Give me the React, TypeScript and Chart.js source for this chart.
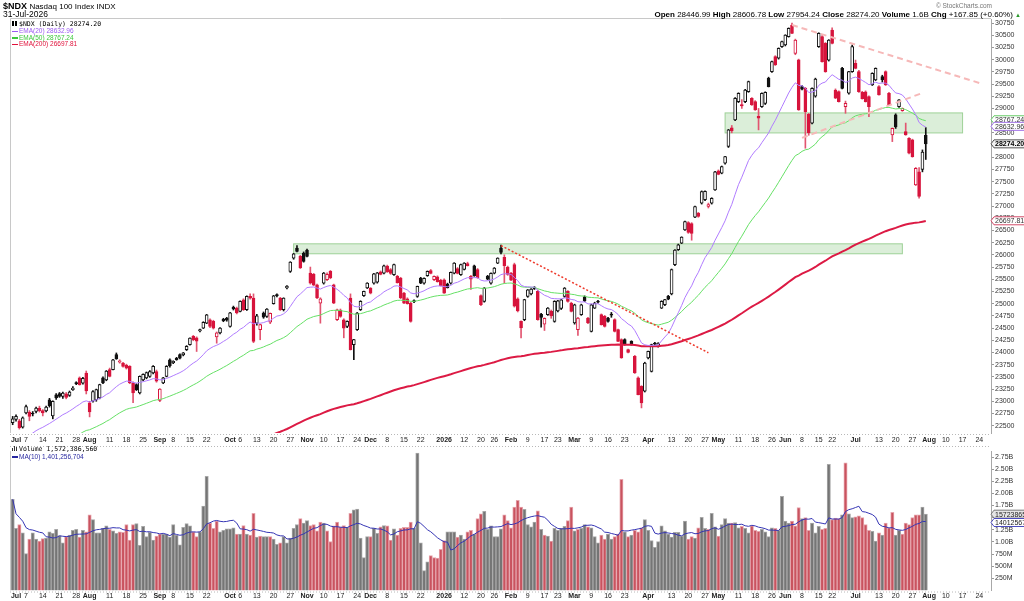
import React, { useEffect, useRef } from "react";
import { Chart, registerables } from "chart.js";

Chart.register(...registerables);

// ---------------- calendar ----------------
const FIRST_SESSION = "2025-06-30";
const LAST_AXIS_DAY = "2026-08-27";
const HOLIDAYS = [
  "2025-07-04", "2025-09-01", "2025-11-27", "2025-12-25", "2026-01-01", "2026-01-19",
  "2026-02-16", "2026-04-03", "2026-05-25", "2026-06-19", "2026-07-03",
];

// ---------------- daily prices ($NDX) ----------------
const OPEN = [
  22560, 22630, 22600, 22470, 22760, 22780, 22760, 22790, 22860, 22810,
  22800, 23030, 22700, 23130, 23160, 23100, 23150, 23120, 23240, 23380,
  23480, 23370, 23580, 22970, 23000, 23030, 23070, 23480, 23440, 23650,
  23650, 23955, 23800, 23780, 23740, 23715, 23375, 23340, 23170, 23440,
  23480, 23510, 23580, 23610, 23020, 23375, 23510, 23850, 23790, 23880,
  23955, 23950, 24056, 24160, 24330, 24300, 24440, 24500, 24600, 24670,
  24640, 24317, 24400, 24680, 24700, 24535, 24925, 24910, 24840, 25080,
  24875, 25150, 25115, 24600, 24465, 24807, 24740, 24620, 25000, 25180,
  25115, 24875, 25320, 25660, 25930, 26140, 25970, 26035, 26100, 25626,
  25600, 25387, 25010, 25420, 25490, 25660, 25387, 24672, 24870, 24670,
  24535, 25115, 24160, 24467, 24876, 25162, 25320, 25320, 25422, 25440,
  25650, 25626, 25770, 25700, 25592, 25560, 25524, 25217, 25100, 25012,
  25060, 25149, 25524, 25420, 25572, 25680, 25490, 25550, 25480, 25490,
  25400, 25422, 25626, 25720, 25592, 25700, 25820, 25560, 25776, 25700,
  25163, 25047, 25558, 25420, 25626, 25831, 26138, 25950, 25749, 25620,
  25800, 25100, 24637, 24672, 25149, 25200, 25330, 25250, 24780, 24580,
  24774, 24850, 24637, 24850, 24900, 25149, 25251, 25013, 24603, 24467,
  24774, 25140, 24706, 24433, 24910, 25050, 24774, 24740, 24706, 24780,
  24672, 24467, 24262, 24262, 24058, 24228, 23921, 23478, 23307, 23205,
  23887, 23614, 24194, 24126, 24910, 24978, 25149, 25200, 25800, 26104,
  26240, 26513, 26663, 26640, 26772, 26854, 27059, 27130, 26990, 27059,
  27332, 27720, 27672, 27877, 28219, 28600, 28764, 29140, 29080, 29140,
  29344, 29208, 29140, 28840, 29037, 29100, 29617, 29754, 30061, 30027,
  30266, 30299, 30470, 30709, 30129, 29993, 29447, 29412, 28880, 28696,
  29250, 30266, 30470, 30334, 29990, 30607, 29378, 29344, 29822, 29037,
  29310, 29754, 29924, 29754, 29330, 29340, 29242, 29481, 29583, 29447,
  29650, 29754, 29310, 28457, 28867, 29037, 28956, 28526, 28389, 28355,
  27434, 27700, 27750, 28446.99,
];
const HIGH = [
  22690, 22720, 22630, 22680, 22920, 22810, 22790, 22880, 22900, 22830,
  22900, 23060, 23010, 23160, 23180, 23190, 23180, 23210, 23300, 23400,
  23500, 23490, 23620, 23000, 23220, 23250, 23350, 23500, 23630, 23680,
  23860, 23990, 23850, 23800, 23760, 23730, 23400, 23360, 23520, 23560,
  23600, 23630, 23730, 23640, 23260, 23490, 23730, 23870, 23830, 23900,
  23970, 24000, 24140, 24300, 24350, 24320, 24480, 24630, 24780, 24690,
  24660, 24420, 24510, 24700, 24720, 24820, 24950, 24930, 25060, 25100,
  25160, 25200, 25200, 24780, 24580, 24830, 24900, 24810, 25170, 25200,
  25130, 25120, 25370, 25860, 26030, 26190, 25990, 26060, 26120, 25750,
  25620, 25400, 25120, 25640, 25630, 25680, 25400, 24890, 24890, 24690,
  24650, 25200, 24270, 24820, 25060, 25260, 25430, 25330, 25620, 25640,
  25670, 25790, 25790, 25720, 25810, 25580, 25540, 25230, 25120, 25030,
  25080, 25360, 25540, 25530, 25670, 25700, 25570, 25570, 25500, 25510,
  25420, 25650, 25840, 25740, 25810, 25840, 25850, 25580, 25790, 25720,
  25180, 25330, 25580, 25630, 25740, 25940, 26200, 26000, 25770, 25640,
  25830, 25120, 24650, 25090, 25290, 25310, 25350, 25280, 24800, 24710,
  24920, 24870, 25060, 25070, 25090, 25330, 25270, 25030, 24990, 24720,
  24990, 25160, 24720, 24990, 25030, 25070, 24790, 24760, 24720, 24820,
  24690, 24480, 24280, 24280, 24070, 24240, 23940, 23500, 23320, 23800,
  24030, 24170, 24210, 24200, 25060, 25090, 25170, 25710, 26110, 26220,
  26370, 26690, 26680, 26660, 27000, 26870, 27310, 27310, 27060, 27170,
  27710, 27740, 27820, 28020, 28570, 28650, 29220, 29320, 29180, 29390,
  29560, 29220, 29160, 29000, 29320, 29340, 29640, 29970, 30080, 30240,
  30380, 30510, 30650, 30750, 30420, 30010, 29470, 29430, 28900, 29420,
  29620, 30550, 30490, 30350, 30410, 30650, 29400, 29360, 29840, 29150,
  29760, 30300, 29990, 29780, 29350, 29360, 29260, 29730, 29830, 29470,
  29680, 29770, 29330, 28600, 28890, 29180, 29010, 28700, 28400, 28370,
  27790, 27790, 28150, 28606.78,
];
const LOW = [
  22520, 22590, 22430, 22450, 22740, 22600, 22700, 22760, 22780, 22700,
  22780, 22880, 22640, 23040, 23080, 23060, 23050, 23100, 23220, 23340,
  23330, 23350, 23150, 22680, 22980, 23000, 23050, 23360, 23420, 23500,
  23640, 23860, 23780, 23700, 23660, 23360, 22970, 23220, 23150, 23420,
  23460, 23490, 23560, 23390, 22990, 23360, 23500, 23700, 23770, 23840,
  23870, 23930, 24040, 24150, 24240, 24020, 24420, 24490, 24590, 24510,
  24480, 24190, 24380, 24630, 24640, 24520, 24870, 24790, 24830, 24860,
  24860, 25090, 24200, 24560, 24260, 24700, 24720, 24590, 24990, 25140,
  24860, 24850, 25300, 25640, 25910, 26060, 25720, 25850, 25960, 25400,
  25370, 25100, 24600, 25400, 25470, 25510, 25000, 24650, 24720, 24300,
  24510, 24050, 23850, 24450, 24860, 25150, 25310, 25200, 25400, 25420,
  25590, 25610, 25640, 25600, 25580, 25420, 25100, 25000, 24990, 24620,
  25020, 25130, 25410, 25400, 25560, 25610, 25470, 25440, 25360, 25210,
  25320, 25400, 25610, 25610, 25580, 25690, 25770, 25290, 25560, 25520,
  24960, 25030, 25490, 25400, 25610, 25820, 26020, 25420, 25580, 25470,
  24930, 24830, 24300, 24650, 25130, 25180, 25290, 24660, 24520, 24450,
  24760, 24700, 24620, 24830, 24880, 25130, 25030, 24830, 24580, 24350,
  24760, 25040, 24590, 24420, 24900, 25010, 24560, 24520, 24620, 24720,
  24420, 24220, 23880, 24150, 23990, 24150, 23570, 23130, 22864, 23190,
  23870, 23600, 24150, 24110, 24900, 24960, 25080, 25180, 25780, 26090,
  26230, 26500, 26440, 26300, 26760, 26770, 27040, 27110, 26960, 27040,
  27320, 27640, 27660, 27860, 28200, 28500, 28750, 29120, 29000, 29120,
  29330, 29060, 28960, 28560, 29020, 29080, 29440, 29740, 29880, 30010,
  30250, 30280, 30460, 30530, 30100, 28960, 29380, 28184, 28450, 28680,
  29230, 30250, 29950, 29740, 29970, 30320, 29200, 29130, 29400, 28900,
  29290, 29740, 29810, 29330, 29190, 29130, 28830, 29470, 29570, 29270,
  29540, 29470, 29060, 28320, 28590, 29020, 28940, 28450, 28070, 28000,
  27420, 27160, 27700, 27954.24,
];
const CLOSE = [
  22640, 22690, 22460, 22660, 22890, 22690, 22740, 22860, 22800, 22760,
  22880, 22910, 23000, 23070, 23100, 23170, 23080, 23190, 23270, 23360,
  23340, 23470, 23210, 22780, 23200, 23240, 23340, 23375, 23620, 23510,
  23850, 23870, 23830, 23715, 23680, 23375, 23170, 23240, 23510, 23550,
  23590, 23610, 23715, 23410, 23250, 23480, 23715, 23730, 23820, 23850,
  23885, 23990, 24125, 24295, 24260, 24230, 24470, 24615, 24770, 24535,
  24500, 24400, 24500, 24650, 24660, 24810, 24890, 24810, 25047, 24875,
  25150, 25110, 24227, 24750, 24570, 24725, 24890, 24800, 25160, 25165,
  24875, 25115, 25360, 25850, 26020, 26070, 25730, 25865, 25970, 25420,
  25380, 25115, 25100, 25626, 25600, 25525, 25012, 24876, 24740, 24500,
  24637, 24058, 24262, 24808, 25047, 25251, 25422, 25217, 25613, 25630,
  25600, 25776, 25650, 25620, 25800, 25430, 25115, 25012, 25000, 24637,
  25040, 25354, 25422, 25520, 25660, 25620, 25560, 25450, 25370, 25217,
  25330, 25640, 25831, 25620, 25800, 25831, 25780, 25500, 25572, 25530,
  24978, 25320, 25503, 25620, 25728, 25933, 26050, 25780, 25600, 25480,
  24950, 24850, 24501, 25081, 25285, 25300, 25305, 24672, 24720, 24700,
  24910, 24750, 25047, 25060, 25080, 25320, 25047, 24842, 24978, 24706,
  24978, 25060, 24603, 24978, 25013, 25030, 24570, 24535, 24637, 24765,
  24433, 24228, 23888, 24160, 24003, 24160, 23580, 23137, 22966, 23785,
  24024, 24160, 24170, 24194, 25047, 25081, 25090, 25700, 26100, 26206,
  26363, 26684, 26458, 26440, 26990, 26786, 27297, 27300, 27030, 27160,
  27700, 27650, 27809, 28013, 28560, 28540, 29208, 29310, 29050, 29378,
  29549, 29071, 28969, 28800, 29310, 29330, 29447, 29958, 29890, 30231,
  30368, 30504, 30641, 30538, 30402, 28969, 29392, 28935, 28500, 29412,
  29600, 30538, 29958, 29754, 30400, 30334, 29208, 29140, 29412, 29106,
  29754, 30266, 29822, 29344, 29200, 29140, 29037, 29720, 29822, 29276,
  29590, 29481, 29071, 28594, 28620, 29174, 29003, 28457, 28082, 28013,
  27775, 27195, 28106.35, 28274.2,
];
// daily volume, billions of shares
const VOLUME_B = [
  1.88, 1.28, 1.36, 1.19, 0.76, 1.06, 1.19, 1.06, 1.02, 1.07,
  1.08, 1.21, 1.18, 1.26, 1.13, 0.98, 1.11, 1.14, 1.24, 1.26,
  1.10, 1.24, 1.21, 1.56, 1.46, 1.19, 1.19, 1.28, 1.33, 1.26,
  1.23, 1.18, 1.21, 1.20, 1.36, 1.04, 1.36, 1.38, 0.93, 1.32,
  1.11, 1.20, 1.04, 1.12, 1.16, 1.16, 1.16, 1.10, 1.36, 1.14,
  0.94, 1.30, 1.38, 1.33, 1.21, 1.11, 1.21, 1.74, 2.35, 1.39,
  1.28, 1.43, 1.21, 1.24, 1.27, 1.27, 1.29, 1.16, 1.16, 1.34,
  1.16, 1.14, 1.59, 1.10, 1.12, 1.11, 1.11, 1.11, 1.06, 0.95,
  0.98, 1.11, 0.98, 1.08, 1.28, 1.36, 1.48, 1.39, 1.44, 1.34,
  1.36, 1.23, 1.41, 1.39, 1.23, 1.01, 1.33, 1.41, 1.31, 1.34,
  1.30, 1.59, 1.66, 1.68, 1.08, 0.68, 1.11, 1.11, 1.28, 1.18,
  1.31, 1.34, 1.33, 1.04, 1.27, 1.14, 1.28, 1.30, 1.30, 1.41,
  1.28, 2.83, 0.98, 0.41, 0.59, 0.72, 0.68, 0.67, 0.85, 1.03,
  1.21, 1.21, 1.21, 1.10, 1.14, 1.06, 1.21, 1.24, 1.16, 1.48,
  1.58, 1.63, 1.26, 1.33, 1.11, 1.11, 1.27, 1.56, 1.44, 1.29,
  1.72, 1.86, 1.72, 1.67, 1.36, 1.31, 1.41, 1.64, 1.26, 1.14,
  1.12, 1.02, 1.28, 1.24, 1.28, 1.32, 1.44, 1.72, 1.23, 1.26,
  1.28, 1.36, 1.31, 1.29, 1.11, 0.98, 1.14, 1.06, 1.16, 1.06,
  1.11, 1.16, 2.29, 1.21, 1.11, 1.14, 1.24, 1.21, 1.29, 1.46,
  1.24, 1.03, 0.89, 1.01, 1.33, 1.23, 1.16, 1.10, 1.20, 1.20,
  1.12, 1.43, 1.06, 1.11, 1.08, 1.29, 1.51, 1.28, 1.26, 1.59,
  1.31, 1.12, 1.36, 1.48, 1.39, 1.39, 1.40, 1.29, 1.32, 1.28,
  1.19, 1.33, 1.24, 1.22, 1.26, 1.21, 1.11, 1.29, 1.28, 1.24,
  1.94, 1.43, 1.39, 1.43, 1.33, 1.71, 1.48, 1.50, 1.24, 1.39,
  1.19, 1.32, 1.26, 1.28, 2.60, 1.46, 1.49, 1.48, 1.56, 2.63,
  1.58, 1.50, 1.52, 1.54, 1.50, 1.36, 1.24, 1.22, 1.02, 1.19,
  1.14, 1.39, 1.29, 1.61, 1.14, 1.24, 1.16, 1.39, 1.36, 1.50,
  1.56, 1.56, 1.72, 1.57238656,
];
const PREV_CLOSE = 22550; // session before the first bar
// indicator values carried in from before the window
const EMA20_START = 22000;
const EMA50_START = 21450;
const EMA200_START = 20400;

// ---------------- axis ticks ----------------
const PRICE_TICKS = [
  22500, 22750, 23000, 23250, 23500, 23750, 24000, 24250, 24500, 24750, 25000, 25250,
  25500, 25750, 26000, 26250, 26500, 26750, 27000, 27250, 27500, 27750, 28000, 28250,
  28500, 28750, 29000, 29250, 29500, 29750, 30000, 30250, 30500, 30750,
];
const VOLUME_TICKS = [0.25, 0.5, 0.75, 1.0, 1.25, 1.5, 1.75, 2.0, 2.25, 2.5, 2.75];
const VOLUME_TICK_LABELS = ["250M", "500M", "750M", "1.00B", "1.25B", "1.50B", "1.75B", "2.00B", "2.25B", "2.50B", "2.75B"];
const MONTH_TICKS: [string, string][] = [
  ["2025-07-01", "Jul"], ["2025-08-01", "Aug"], ["2025-09-02", "Sep"], ["2025-10-01", "Oct"],
  ["2025-11-03", "Nov"], ["2025-12-01", "Dec"], ["2026-01-02", "2026"], ["2026-02-02", "Feb"],
  ["2026-03-02", "Mar"], ["2026-04-01", "Apr"], ["2026-05-01", "May"], ["2026-06-01", "Jun"],
  ["2026-07-01", "Jul"], ["2026-08-03", "Aug"],
];
const WEEK_TICKS: [string, string][] = [
  ["2025-07-07", "7"], ["2025-07-14", "14"], ["2025-07-21", "21"], ["2025-07-28", "28"],
  ["2025-08-11", "11"], ["2025-08-18", "18"], ["2025-08-25", "25"], ["2025-09-08", "8"],
  ["2025-09-15", "15"], ["2025-09-22", "22"], ["2025-10-06", "6"], ["2025-10-13", "13"],
  ["2025-10-20", "20"], ["2025-10-27", "27"], ["2025-11-10", "10"], ["2025-11-17", "17"],
  ["2025-11-24", "24"], ["2025-12-08", "8"], ["2025-12-15", "15"], ["2025-12-22", "22"],
  ["2026-01-12", "12"], ["2026-01-20", "20"], ["2026-01-26", "26"], ["2026-02-09", "9"],
  ["2026-02-17", "17"], ["2026-02-23", "23"], ["2026-03-09", "9"], ["2026-03-16", "16"],
  ["2026-03-23", "23"], ["2026-04-13", "13"], ["2026-04-20", "20"], ["2026-04-27", "27"],
  ["2026-05-11", "11"], ["2026-05-18", "18"], ["2026-05-26", "26"], ["2026-06-08", "8"],
  ["2026-06-15", "15"], ["2026-06-22", "22"], ["2026-07-13", "13"], ["2026-07-20", "20"],
  ["2026-07-27", "27"], ["2026-08-10", "10"], ["2026-08-17", "17"], ["2026-08-24", "24"],
];

// ---------------- annotations ----------------
const ZONE_FROM = ["2025-10-28", "2026-05-05"];
const ZONE_TO = ["2026-07-22", "2026-08-17"];
const ZONE_LOW = [26022, 28498];
const ZONE_HIGH = [26226, 28908];
const RED_TRENDLINE: [string, number][] = [["2026-01-28", 26190], ["2026-04-28", 23995]];
const PINK_UPPER_LINE: [string, number][] = [["2026-06-03", 30709], ["2026-08-24", 29522]];
const PINK_LOWER_LINE: [string, number][] = [["2026-06-08", 28396], ["2026-07-30", 29317]];
const PRICE_TAG_VALUES = [28767.24, 28632.96, 26697.81, 28274.2];
const PRICE_TAG_TEXTS = ["28767.24", "28632.96", "26697.81", "28274.20"];
const VOLUME_TAG_VALUES = [1.57238656, 1.401256704];
const VOLUME_TAG_TEXTS = ["1572386560", "1401256704"];

// ---------------- helpers ----------------
function tradingDays(): string[] {
  const out: string[] = [];
  const d = new Date(FIRST_SESSION + "T12:00:00Z");
  const end = new Date(LAST_AXIS_DAY + "T12:00:00Z");
  while (d <= end) {
    const wd = d.getUTCDay();
    const s = d.toISOString().slice(0, 10);
    if (wd !== 0 && wd !== 6 && !HOLIDAYS.includes(s)) out.push(s);
    d.setUTCDate(d.getUTCDate() + 1);
  }
  return out;
}
function ema(values: number[], period: number, start: number): number[] {
  const k = 2 / (period + 1);
  let e = start;
  return values.map((v) => (e = e + k * (v - e)));
}
function sma(values: number[], period: number): number[] {
  return values.map((_, i) => {
    const s = values.slice(Math.max(0, i - period + 1), i + 1);
    return s.reduce((a, b) => a + b, 0) / s.length;
  });
}

const SANS = '"Liberation Sans", Arial, sans-serif';
const MONO = '"DejaVu Sans Mono", "Liberation Mono", monospace';
const RED = "#d7143c";
const RED_WICK = "#e25570";
const BLACK = "#111111";

const DATES = tradingDays();
const tickEntries = [
  ...MONTH_TICKS.map(([d, t]) => ({ idx: DATES.indexOf(d), text: t, bold: true })),
  ...WEEK_TICKS.map(([d, t]) => ({ idx: DATES.indexOf(d), text: t, bold: false })),
]
  .filter((e) => e.idx >= 0)
  .sort((a, b) => a.idx - b.idx);

function xScaleOptions(height: number, padding: number) {
  return {
    type: "category" as const,
    offset: true,
    grid: { display: false, drawTicks: false, tickLength: 0 },
    border: { display: false },
    afterBuildTicks: (s: any) => {
      s.ticks = tickEntries.map((e) => ({ value: e.idx }));
    },
    afterFit: (s: any) => {
      s.height = height;
    },
    ticks: {
      autoSkip: false,
      maxRotation: 0,
      minRotation: 0,
      padding,
      color: "#222",
      font: (c: any) => ({ family: SANS, size: 7, weight: tickEntries[c.index]?.bold ? "bold" : "normal" }),
      callback: (_v: any, i: number) => tickEntries[i]?.text ?? "",
    },
  };
}

function dottedH(ctx: CanvasRenderingContext2D, x1: number, x2: number, y: number) {
  ctx.save();
  ctx.strokeStyle = "#b8b8b8";
  ctx.lineWidth = 1;
  ctx.setLineDash([1, 2]);
  ctx.beginPath();
  ctx.moveTo(x1, y);
  ctx.lineTo(x2, y);
  ctx.stroke();
  ctx.restore();
}

function drawTag(ctx: CanvasRenderingContext2D, x: number, y: number, text: string, border: string, bg: string, color: string, bold: boolean) {
  const h = 8;
  ctx.save();
  ctx.beginPath();
  ctx.moveTo(x, y);
  ctx.lineTo(x + 3, y - h / 2);
  ctx.lineTo(x + 70, y - h / 2);
  ctx.lineTo(x + 70, y + h / 2);
  ctx.lineTo(x + 3, y + h / 2);
  ctx.closePath();
  ctx.fillStyle = bg;
  ctx.fill();
  ctx.strokeStyle = border;
  ctx.lineWidth = 1;
  ctx.stroke();
  ctx.fillStyle = color;
  ctx.font = `${bold ? "bold " : ""}7px ${SANS}`;
  ctx.textBaseline = "middle";
  ctx.fillText(text, x + 4, y + 0.5);
  ctx.restore();
}

function drawSegment(chart: any, pts: [string, number][], color: string, width: number, dash: number[]) {
  const { ctx, chartArea: a, scales } = chart;
  const x1 = scales.x.getPixelForValue(DATES.indexOf(pts[0][0]));
  const x2 = scales.x.getPixelForValue(DATES.indexOf(pts[1][0]));
  const y1 = scales.y.getPixelForValue(pts[0][1]);
  const y2 = scales.y.getPixelForValue(pts[1][1]);
  ctx.save();
  ctx.beginPath();
  ctx.rect(a.left, a.top, a.right - a.left, a.bottom - a.top);
  ctx.clip();
  ctx.strokeStyle = color;
  ctx.lineWidth = width;
  ctx.setLineDash(dash);
  ctx.beginPath();
  ctx.moveTo(x1, y1);
  ctx.lineTo(x2, y2);
  ctx.stroke();
  ctx.restore();
}

const pricePlugin = {
  id: "pricePlugin",
  beforeDatasetsDraw(chart: any) {
    const { ctx, chartArea: a, scales } = chart;
    ctx.save();
    ctx.beginPath();
    ctx.rect(a.left, a.top, a.right - a.left, a.bottom - a.top);
    ctx.clip();
    ZONE_FROM.forEach((from, k) => {
      const x1 = scales.x.getPixelForValue(DATES.indexOf(from));
      const x2 = scales.x.getPixelForValue(DATES.indexOf(ZONE_TO[k]));
      const y1 = scales.y.getPixelForValue(ZONE_HIGH[k]);
      const y2 = scales.y.getPixelForValue(ZONE_LOW[k]);
      ctx.fillStyle = "rgba(176, 218, 170, 0.45)";
      ctx.fillRect(x1, y1, x2 - x1, y2 - y1);
      ctx.strokeStyle = "rgba(150, 205, 142, 0.9)";
      ctx.lineWidth = 1;
      ctx.strokeRect(x1, y1, x2 - x1, y2 - y1);
    });
    ctx.restore();
  },
  afterDatasetsDraw(chart: any) {
    drawSegment(chart, RED_TRENDLINE, "#ee3a2c", 1.5, [2, 2]);
    drawSegment(chart, PINK_UPPER_LINE, "#f6b8b8", 2, [6, 4]);
    drawSegment(chart, PINK_LOWER_LINE, "#f6b8b8", 2, [6, 4]);
  },
  afterDraw(chart: any) {
    const { ctx, chartArea: a, scales } = chart;
    ctx.save();
    ctx.strokeStyle = "#c8c8c8";
    ctx.lineWidth = 1;
    ctx.beginPath();
    ctx.moveTo(a.left - 0.5, a.bottom);
    ctx.lineTo(a.left - 0.5, a.top - 0.5);
    ctx.lineTo(a.right, a.top - 0.5);
    ctx.stroke();
    ctx.restore();
    dottedH(ctx, a.left - 1, a.right, a.bottom + 1.5);
    dottedH(ctx, a.left - 1, a.right, chart.height - 1.5);
    const styles = [
      { border: "#66cc66", bg: "#ffffff", color: "#333", bold: false },
      { border: "#9f6fe6", bg: "#ffffff", color: "#333", bold: false },
      { border: "#d24a68", bg: "#ffffff", color: "#333", bold: false },
      { border: "#555555", bg: "#f2f2f2", color: "#000", bold: true },
    ];
    PRICE_TAG_VALUES.forEach((v, k) => {
      const s = styles[k];
      drawTag(ctx, a.right, scales.y.getPixelForValue(v), PRICE_TAG_TEXTS[k], s.border, s.bg, s.color, s.bold);
    });
  },
};

const volumePlugin = {
  id: "volumePlugin",
  afterDraw(chart: any) {
    const { ctx, chartArea: a, scales } = chart;
    ctx.save();
    ctx.strokeStyle = "#c8c8c8";
    ctx.lineWidth = 1;
    ctx.beginPath();
    ctx.moveTo(a.left - 0.5, a.bottom);
    ctx.lineTo(a.left - 0.5, a.top);
    ctx.stroke();
    ctx.restore();
    dottedH(ctx, a.left - 1, a.right, a.bottom + 1.5);
    const styles = [
      { border: "#777777", bg: "#e6e6e6", color: "#222" },
      { border: "#4a4ac0", bg: "#ffffff", color: "#222" },
    ];
    VOLUME_TAG_VALUES.forEach((v, k) => {
      const s = styles[k];
      drawTag(ctx, a.right, scales.y.getPixelForValue(v), VOLUME_TAG_TEXTS[k], s.border, s.bg, s.color, false);
    });
  },
};

export default function App() {
  const priceRef = useRef<HTMLCanvasElement>(null);
  const volRef = useRef<HTMLCanvasElement>(null);

  useEffect(() => {
    const up = CLOSE.map((c, i) => c >= (i === 0 ? PREV_CLOSE : CLOSE[i - 1]));
    const candleColor = up.map((u) => (u ? BLACK : RED));
    const wickColor = up.map((u) => (u ? BLACK : RED_WICK));
    const bodyFill = CLOSE.map((c, i) => (c >= OPEN[i] ? "#ffffff" : candleColor[i]));
    const bodies = OPEN.map((o, i) => [o, CLOSE[i]]);
    const wicks = LOW.map((l, i) => [l, HIGH[i]]);

    const priceChart = new Chart(priceRef.current!, {
      type: "bar",
      data: {
        labels: DATES,
        datasets: [
          { type: "line", label: "EMA(20)", data: ema(CLOSE, 20, EMA20_START), borderColor: "#b07cff", borderWidth: 1, pointRadius: 0, order: 0 } as any,
          { type: "line", label: "EMA(50)", data: ema(CLOSE, 50, EMA50_START), borderColor: "#66e066", borderWidth: 1, pointRadius: 0, order: 0 } as any,
          { type: "line", label: "EMA(200)", data: ema(CLOSE, 200, EMA200_START), borderColor: "#dc1a44", borderWidth: 2, pointRadius: 0, order: 0 } as any,
          {
            type: "bar", label: "body", data: bodies, backgroundColor: bodyFill, borderColor: candleColor,
            borderWidth: 1, borderSkipped: false, barThickness: 3, grouped: false, minBarLength: 1, order: 1,
          } as any,
          {
            type: "bar", label: "wick", data: wicks, backgroundColor: wickColor, borderWidth: 0,
            barThickness: 1, grouped: false, order: 2,
          } as any,
        ],
      },
      options: {
        responsive: false,
        animation: false,
        events: [],
        layout: { padding: { left: 11, top: 19, right: 0, bottom: 0 } },
        plugins: { legend: { display: false }, tooltip: { enabled: false } },
        scales: {
          x: xScaleOptions(15, 3) as any,
          y: {
            position: "right",
            min: 22350,
            max: 30832,
            grid: { drawOnChartArea: false, drawTicks: true, tickLength: 3, color: "#999" },
            border: { display: true, color: "#a8a8a8" },
            afterBuildTicks: (s: any) => {
              s.ticks = PRICE_TICKS.map((v) => ({ value: v }));
            },
            afterFit: (s: any) => {
              s.width = 33;
            },
            ticks: { padding: 1, color: "#333", font: { family: SANS, size: 7 }, callback: (v: any) => String(v) },
          } as any,
        },
      },
      plugins: [pricePlugin],
    });

    const volUp = CLOSE.map((c, i) => c >= (i === 0 ? PREV_CLOSE : CLOSE[i - 1]));
    const volChart = new Chart(volRef.current!, {
      type: "bar",
      data: {
        labels: DATES,
        datasets: [
          { type: "line", label: "MA(10)", data: sma(VOLUME_B, 10), borderColor: "#3434b4", borderWidth: 1, pointRadius: 0, order: 0 } as any,
          {
            type: "bar", label: "Volume", data: VOLUME_B,
            backgroundColor: volUp.map((u) => (u ? "#757575" : "#c9535f")),
            borderColor: volUp.map((u) => (u ? "#a8a8a8" : "#e6a5ad")),
            borderWidth: 1, barPercentage: 1, categoryPercentage: 1, order: 1,
          } as any,
        ],
      },
      options: {
        responsive: false,
        animation: false,
        events: [],
        layout: { padding: { left: 11, top: 1, right: 0, bottom: 0 } },
        plugins: { legend: { display: false }, tooltip: { enabled: false } },
        scales: {
          x: xScaleOptions(10.5, 1) as any,
          y: {
            position: "right",
            min: 0,
            max: 2.87,
            grid: { drawOnChartArea: false, drawTicks: true, tickLength: 3, color: "#999" },
            border: { display: true, color: "#a8a8a8" },
            afterBuildTicks: (s: any) => {
              s.ticks = VOLUME_TICKS.map((v) => ({ value: v }));
            },
            afterFit: (s: any) => {
              s.width = 33;
            },
            ticks: {
              padding: 1, color: "#333", font: { family: SANS, size: 7 },
              callback: (_v: any, i: number) => VOLUME_TICK_LABELS[i],
            },
          } as any,
        },
      },
      plugins: [volumePlugin],
    });

    return () => {
      priceChart.destroy();
      volChart.destroy();
    };
  }, []);

  const abs = (extra: React.CSSProperties): React.CSSProperties => ({
    position: "absolute", whiteSpace: "nowrap", ...extra,
  });
  const dash = (color: string) => (
    <span style={{ display: "inline-block", width: 6, height: 1.5, background: color, verticalAlign: "middle", marginRight: 1 }} />
  );

  return (
    <div style={{ position: "fixed", left: 0, top: 0, width: 1024, height: 601, background: "#fff", overflow: "hidden", fontFamily: SANS, color: "#000" }}>
      <canvas ref={priceRef} width={1024} height={448} style={{ position: "absolute", left: 0, top: 0, width: 1024, height: 448 }} />
      <canvas ref={volRef} width={1024} height={155} style={{ position: "absolute", left: 0, top: 446, width: 1024, height: 155 }} />

      {/* header */}
      <div style={abs({ left: 3, top: 0, fontSize: 8.5, lineHeight: "12px" })}>
        <b style={{ fontSize: 9 }}>$NDX</b> <span style={{ fontSize: 8 }}>Nasdaq 100 Index INDX</span>
      </div>
      <div style={abs({ left: 3, top: 9, fontSize: 8.5, lineHeight: "11px" })}>31-Jul-2026</div>
      <div style={abs({ right: 32, top: 1, fontSize: 6.5, lineHeight: "10px", color: "#777" })}>© StockCharts.com</div>
      <div style={abs({ right: 3, top: 10, fontSize: 8, lineHeight: "10px" })}>
        <b>Open</b> 28446.99 <b>High</b> 28606.78 <b>Low</b> 27954.24 <b>Close</b> 28274.20 <b>Volume</b> 1.6B <b>Chg</b> +167.85 (+0.60%) <span style={{ color: "#2a9a2a", fontSize: 6 }}>▲</span>
      </div>

      {/* price legend */}
      <div style={abs({ left: 12, top: 20.5, fontFamily: MONO, fontSize: 6.5, lineHeight: "7px" })}>
        <span style={{ display: "inline-block", width: 2, height: 5, background: "#000", marginRight: 1 }} />
        <span style={{ display: "inline-block", width: 2, height: 5, border: "0.5px solid #000", boxSizing: "border-box", marginRight: 2 }} />
        $NDX (Daily) 28274.20
      </div>
      <div style={abs({ left: 12, top: 27, fontSize: 6.5, lineHeight: "7px", color: "#9b59f0" })}>{dash("#9b59f0")}EMA(20) 28632.96</div>
      <div style={abs({ left: 12, top: 33.5, fontSize: 6.5, lineHeight: "7px", color: "#3cc83c" })}>{dash("#3cc83c")}EMA(50) 28767.24</div>
      <div style={abs({ left: 12, top: 40, fontSize: 6.5, lineHeight: "7px", color: "#e0103a" })}>{dash("#e0103a")}EMA(200) 26697.81</div>

      {/* volume legend */}
      <div style={abs({ left: 12, top: 445.8, fontFamily: MONO, fontSize: 6.5, lineHeight: "7px" })}>
        <span style={{ display: "inline-block", width: 1, height: 3, background: "#333", marginRight: 1 }} />
        <span style={{ display: "inline-block", width: 1, height: 5, background: "#333", marginRight: 1 }} />
        <span style={{ display: "inline-block", width: 1, height: 4, background: "#333", marginRight: 2 }} />
        Volume 1,572,386,560
      </div>
      <div style={abs({ left: 12, top: 452.5, fontSize: 6.5, lineHeight: "7px", color: "#2828a0" })}>{dash("#2828a0")}MA(10) 1,401,256,704</div>
    </div>
  );
}
